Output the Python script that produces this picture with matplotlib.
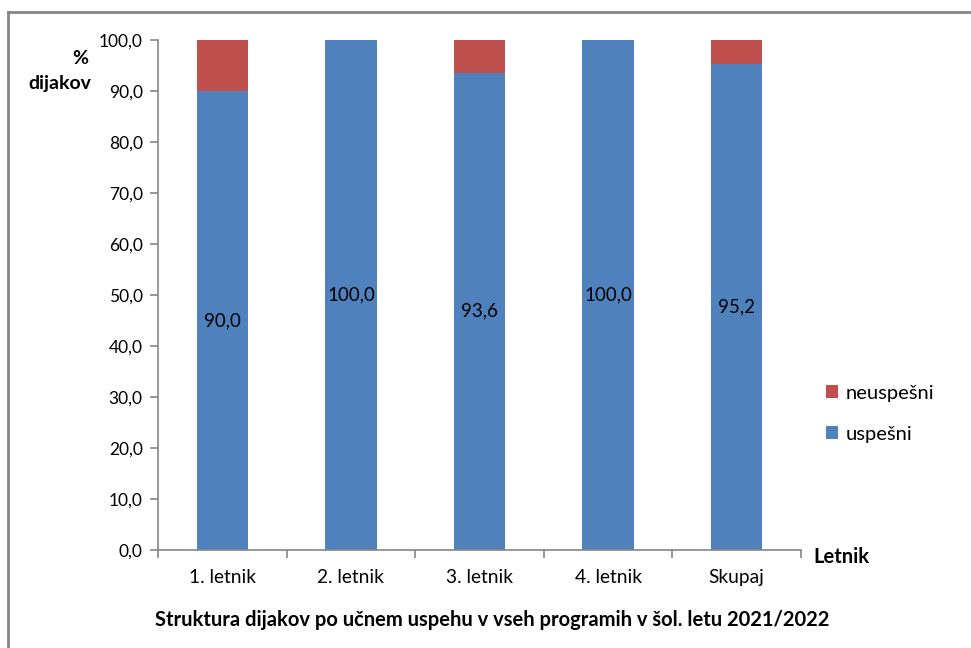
import matplotlib.pyplot as plt
from matplotlib.lines import Line2D
import numpy as np

plt.rcParams['font.family'] = ['Lato', 'DejaVu Sans']

# data
categories = ["1. letnik", "2. letnik", "3. letnik", "4. letnik", "Skupaj"]
uspesni = [90.0, 100.0, 93.6, 100.0, 95.2]
neuspesni = [10.0, 0.0, 6.4, 0.0, 4.8]

blue = "#4F81BD"
red = "#C0504D"
axis_gray = "#868686"

fig = plt.figure(figsize=(9.71, 6.48), dpi=100)
ax = fig.add_axes([158 / 971, 1 - 550 / 648, (801 - 158) / 971, (550 - 40) / 648])

x = np.arange(len(categories))
b1 = ax.bar(x, uspesni, width=0.4, color=blue, label="uspešni")
b2 = ax.bar(x, neuspesni, width=0.4, bottom=uspesni, color=red, label="neuspešni")

for xi, v in zip(x, uspesni):
    ax.text(xi, v / 2, f"{v:.1f}".replace(".", ","), ha="center", va="center",
            fontsize=13.5, color="black")

ax.set_xlim(-0.5, len(categories) - 0.5)
ax.set_ylim(0, 100)
ax.set_yticks(np.arange(0, 101, 10))
ax.set_yticklabels([f"{t:.1f}".replace(".", ",") for t in np.arange(0, 101, 10)])
ax.set_xticks(x)
ax.set_xticklabels(categories)
ax.set_xticks(np.arange(-0.5, len(categories), 1), minor=True)
ax.tick_params(axis="x", which="major", length=0, pad=14, labelsize=13.8)
ax.tick_params(axis="x", which="minor", length=6, color=axis_gray, width=1.2)
ax.tick_params(axis="y", length=6, color=axis_gray, width=1.2, labelsize=12.5, pad=5)

for s in ["top", "right"]:
    ax.spines[s].set_visible(False)
for s in ["left", "bottom"]:
    ax.spines[s].set_color(axis_gray)
    ax.spines[s].set_linewidth(1.2)

handles = [b2, b1]
ax.legend(handles, ["neuspešni", "uspešni"], loc="center left",
          bbox_to_anchor=(1.01, 0.267), frameon=False, fontsize=14.5,
          handlelength=0.6, handleheight=0.6, handletextpad=0.4, labelspacing=1.2)

fig.text(80 / 971, 1 - 58 / 648, "%", ha="center", va="center", fontsize=14, fontweight="bold")
fig.text(60 / 971, 1 - 84 / 648, "dijakov", ha="center", va="center", fontsize=14, fontweight="bold")
fig.text(841 / 971, 1 - 557 / 648, "Letnik", ha="center", va="center", fontsize=14.5, fontweight="bold")
fig.text(492 / 971, 1 - 620 / 648,
         "Struktura dijakov po učnem uspehu v vseh programih v šol. letu 2021/2022",
         ha="center", va="center", fontsize=14.5, fontweight="bold")

# chart border (top and left visible)
fig.add_artist(Line2D([8 / 971, 1.0], [1 - 12 / 648, 1 - 12 / 648], color=axis_gray, lw=2,
                      transform=fig.transFigure))
fig.add_artist(Line2D([8 / 971, 8 / 971], [0, 1 - 12 / 648], color=axis_gray, lw=2,
                      transform=fig.transFigure))

fig.savefig("out.png", dpi=100)
